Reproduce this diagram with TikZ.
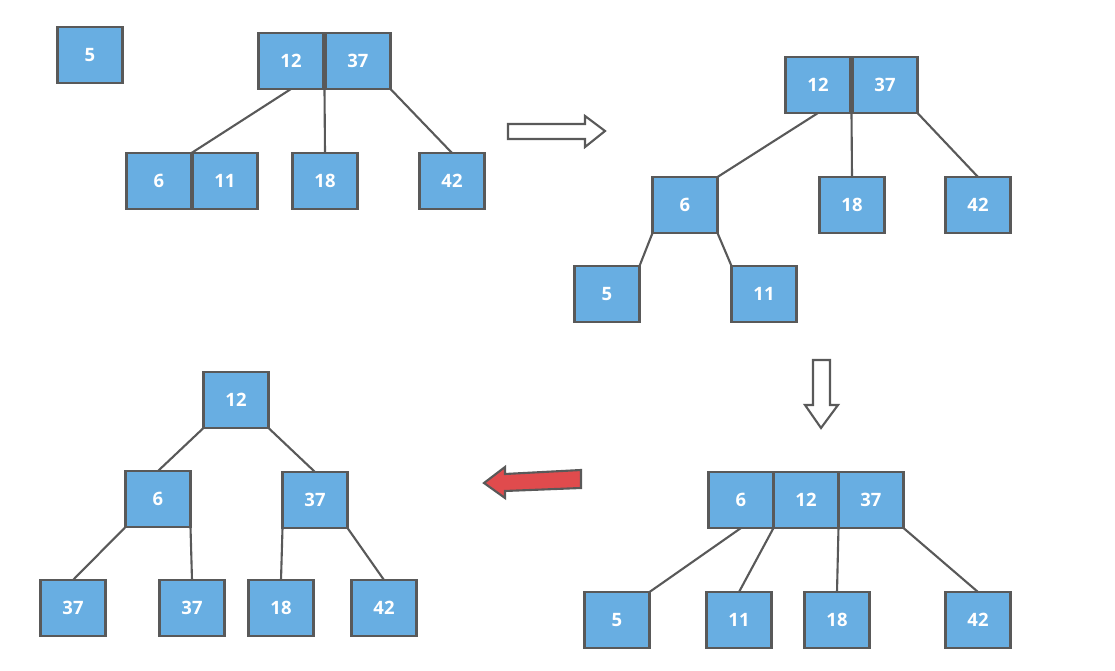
\documentclass[tikz,border=0pt]{standalone}
\usepackage{fontspec}
\newfontfamily\boxfont{Open Sans}
\usepackage{tikz}
\usetikzlibrary{positioning, calc}

\definecolor{boxblue}{HTML}{68AEE2}
\definecolor{edgegray}{HTML}{595959}
\definecolor{arrowred}{HTML}{E04B4D}

\begin{document}
\begin{tikzpicture}[
    x=0.02cm, y=-0.02cm,
    key/.style={rectangle, draw=edgegray, fill=boxblue, line width=1.3pt,
                minimum width=1.3cm, minimum height=1.12cm, inner sep=0pt, outer sep=0pt,
                text=white, font=\boxfont\fontsize{10.5}{12}\selectfont\bfseries},
    edge/.style={draw=edgegray, line width=1.2pt},
    bigarrow/.style={draw=edgegray, line width=1.2pt, line join=miter}
]
\useasboundingbox (0,0) rectangle (1115,671);

% tree 1: insert 5
\node[key] (a5)  at (90,55)   {5};
\node[key] (a12) at (291,61)  {12};
\node[key, right=0.04cm of a12] (a37) {37};
\node[key] (a6)  at (159,181) {6};
\node[key, right=0.02cm of a6] (a11) {11};
\node[key] (a18) at (325,181) {18};
\node[key] (a42) at (452,181) {42};

\draw[edge] (a12.south) -- (a6.north east);
\draw[edge] ($(a12.south east)!0.5!(a37.south west)$) -- (a18.north);
\draw[edge] (a37.south east) -- (a42.north);

% tree 2: split leaf
\node[key] (b12) at (818,85)  {12};
\node[key, right=0.04cm of b12] (b37) {37};
\node[key] (b6)  at (685,205) {6};
\node[key] (b18) at (852,205) {18};
\node[key] (b42) at (978,205) {42};
\node[key] (b5)  at (607,294) {5};
\node[key] (b11) at (764,294) {11};

\draw[edge] (b12.south) -- (b6.north east);
\draw[edge] ($(b12.south east)!0.5!(b37.south west)$) -- (b18.north);
\draw[edge] (b37.south east) -- (b42.north);
\draw[edge] (b6.south west) -- (b5.north east);
\draw[edge] (b6.south east) -- (b11.north west);

% tree 3: merge into root
\node[key] (c6)  at (741,500) {6};
\node[key, right=0pt of c6]  (c12) {12};
\node[key, right=0pt of c12] (c37) {37};
\node[key] (c5)  at (617,620) {5};
\node[key] (c11) at (739,620) {11};
\node[key] (c18) at (837,620) {18};
\node[key] (c42) at (978,620) {42};

\draw[edge] (c6.south) -- (c5.north east);
\draw[edge] (c6.south east) -- (c11.north);
\draw[edge] (c12.south east) -- (c18.north);
\draw[edge] (c37.south east) -- (c42.north);

% tree 4: split root
\node[key] (d12)  at (236,400) {12};
\node[key] (d6)   at (158,499) {6};
\node[key] (d37)  at (315,500) {37};
\node[key] (d37a) at (73,608)  {37};
\node[key] (d37b) at (192,608) {37};
\node[key] (d18)  at (281,608) {18};
\node[key] (d42)  at (384,608) {42};

\draw[edge] (d12.south west) -- (d6.north);
\draw[edge] (d12.south east) -- (d37.north);
\draw[edge] (d6.south west) -- (d37a.north);
\draw[edge] (d6.south east) -- (d37b.north);
\draw[edge] (d37.south west) -- (d18.north);
\draw[edge] (d37.south east) -- (d42.north);

% step arrows
\draw[bigarrow, fill=white] (508,124) -- (585,124) -- (585,116) -- (605,131)
    -- (585,147) -- (585,139) -- (508,139) -- cycle;
\draw[bigarrow, fill=white] (813,360) -- (830,360) -- (830,405) -- (838,405)
    -- (821,428) -- (805,405) -- (813,405) -- cycle;
\draw[bigarrow, fill=arrowred] (581,470) -- (581,488) -- (505,491) -- (505,498)
    -- (484,483) -- (505,467) -- (505,474) -- cycle;
\end{tikzpicture}
\end{document}
